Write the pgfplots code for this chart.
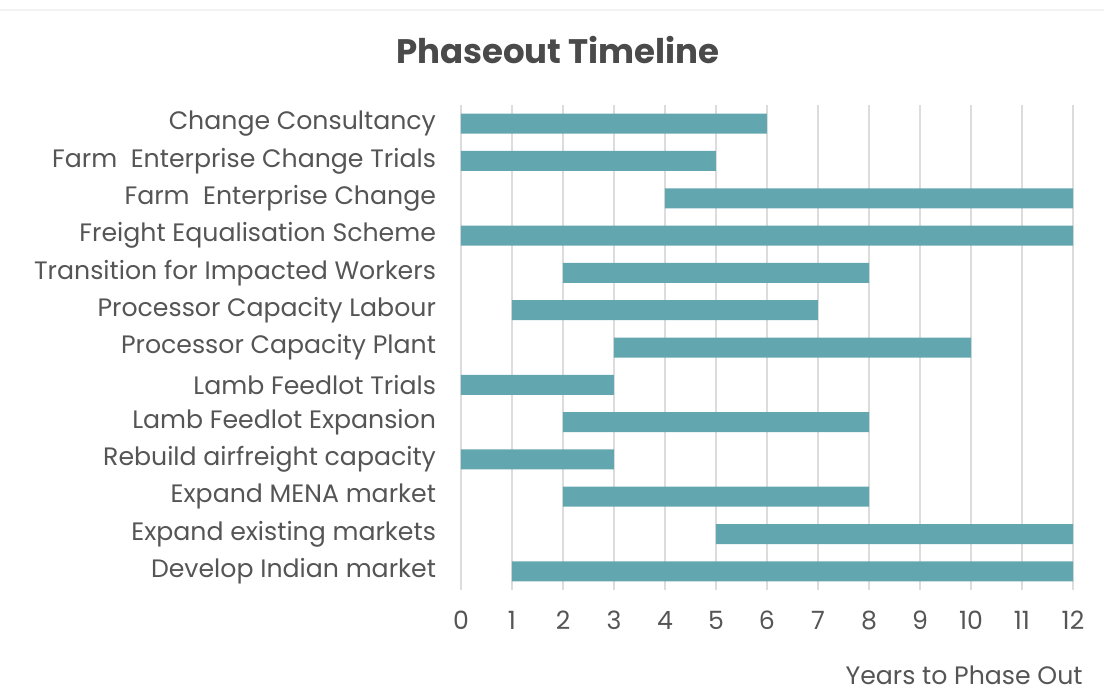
\documentclass[border=0pt]{standalone}
\usepackage{fontspec}
\setmainfont{Poppins}
\usepackage{pgfplots}
\pgfplotsset{compat=1.18}
\definecolor{barteal}{HTML}{62A6AF}
\definecolor{txt}{HTML}{4A4A4A}
\definecolor{lbl}{HTML}{555555}
\definecolor{gridc}{HTML}{DCDCDC}
\begin{document}
\begin{tikzpicture}[x=1pt,y=1pt]
\useasboundingbox (0,0) rectangle (552,346.5);
\draw[color=black!5, line width=0.8pt] (0,341.5) -- (552,341.5);
\begin{axis}[
  at={(230.5pt,51.5pt)}, anchor=south west,
  scale only axis, width=306pt, height=242.5pt,
  xbar stacked, bar width=10pt,
  xmin=0, xmax=12, ymin=-0.5, ymax=12.5, y dir=reverse,
  xtick={0,...,12}, ytick={0,...,12},
  yticklabels={Change Consultancy, Farm\ \ Enterprise Change Trials, Farm\ \ Enterprise Change, Freight Equalisation Scheme, Transition for Impacted Workers, Processor Capacity Labour, Processor Capacity Plant, Lamb Feedlot Trials, Lamb Feedlot Expansion, Rebuild airfreight capacity, Expand MENA market, Expand existing markets, Develop Indian market},
  axis line style={draw=none}, major tick length=0pt,
  xmajorgrids, ymajorgrids=false, grid style={gridc, line width=0.7pt},
  /pgf/number format/assume math mode=true,
  tick label style={font=\fontsize{12.6}{14}\selectfont, text=lbl},
  xticklabel style={yshift=-7pt},
  yticklabel style={xshift=-9pt},
]
\addplot[draw=none, fill=none] coordinates {(0,0) (0,1) (4,2) (0,3) (2,4) (1,5) (3,6) (0,7) (2,8) (0,9) (2,10) (5,11) (1,12)};
\addplot[draw=none, fill=barteal] coordinates {(6,0) (5,1) (8,2) (12,3) (6,4) (6,5) (7,6) (3,7) (6,8) (3,9) (6,10) (7,11) (11,12)};
\end{axis}
\node[text=txt, font=\fontsize{17}{20}\selectfont\bfseries] at (279,321.5) {Phaseout Timeline};
\node[text=lbl, font=\fontsize{12.6}{14}\selectfont, anchor=base east, inner sep=0pt] at (541.5,4.5) {Years to Phase Out};
\end{tikzpicture}
\end{document}
